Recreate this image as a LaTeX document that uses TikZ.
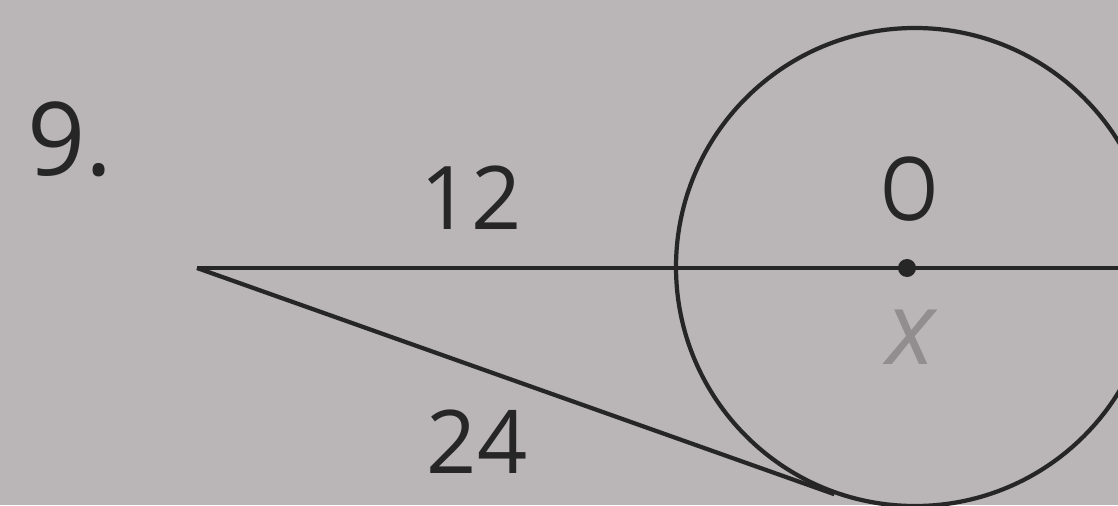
\documentclass[tikz,border=0pt]{standalone}
\usepackage{fontspec}
\setmainfont{Open Sans}
\usetikzlibrary{calc}
\definecolor{paper}{RGB}{186,181,183}
\definecolor{pencil}{RGB}{146,142,144}

\begin{document}
\begin{tikzpicture}[
    seg/.style={line width=1.2pt, black!85},
    lbl/.style={font=\fontsize{25}{30}\selectfont, text=black!85, inner sep=0pt},
]
% Page
\fill[paper] (0,0) rectangle (11.18,5.05);
\clip (0,0) rectangle (11.18,5.05);

% Circle and points
\node[circle, draw, seg, minimum size=4.78cm, inner sep=0pt] (c) at (9.15,2.38) {};
\coordinate (P) at (1.97,2.37);
\fill[black!85] (9.07,2.37) circle (0.09) coordinate (O);
\coordinate (T) at (tangent cs:node=c, point={(P)}, solution=1);

% Segments
\draw[seg] (P) -- (P -| c.east);
\draw[seg] (P) -- (T);

% Labels
\node[lbl, font=\fontsize{29}{34}\selectfont] (num) at (0.70,3.66) {9.};
\node[lbl] (l12) at (4.71,3.07) {12};
\node[lbl] (l24) at (4.77,0.63) {24};
\node[lbl, xscale=0.85] (lO) at (9.10,3.16) {O};
\node[lbl, text=pencil, font=\fontsize{29}{34}\selectfont\itshape] (lx) at (9.11,1.68) {x};
\end{tikzpicture}
\end{document}
